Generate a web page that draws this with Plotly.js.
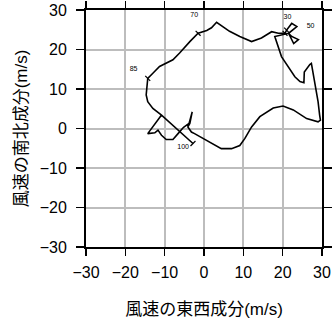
<!DOCTYPE html>
<html><head><meta charset="utf-8">
<script src="https://cdn.plot.ly/plotly-3.0.1.min.js"></script>
<style>html,body{margin:0;padding:0;background:#fff}</style>
</head><body><div id="c" style="width:332px;height:319px"></div>
<script>
// Hodograph: wind u (east-west) and v (north-south) components, m/s, surface first
const uWind = [-2.8,-10.8,-13.0,-14.3,-14.7,-14.5,-14.3,-13.0,-11.3,-7.9,-6.2,-3.6,-1.5,0.7,1.9,3.2,6.5,9.1,12.1,14.6,17.2,18.9,20.6,21.0,22.3,23.6,21.5,22.8,24.0,22.3,21.5,18.0,19.7,23.1,24.4,25.4,25.5,26.9,27.3,27.6,28.2,29.0,29.4,29.6,29.0,26.1,22.7,20.1,17.6,14.2,12.1,10.4,9.1,7.0,4.4,1.5,-2.4,-3.2,-4.1,-3.6,-3.0,-3.8,-5.2,-6.6,-7.9,-9.6,-10.8,-11.7,-12.5,-14.3,-10.8];
const vWind = [-3.8,3.4,5.1,6.8,8.5,11.0,12.7,14.0,15.7,17.4,19.1,22.0,24.1,24.8,25.5,26.9,24.6,23.3,22.0,22.9,24.5,24.1,24.1,24.9,26.6,25.8,24.1,21.5,22.5,23.3,24.1,23.3,18.2,13.1,11.9,11.6,14.3,16.2,16.5,14.8,11.5,6.8,3.4,2.1,1.7,2.5,4.7,5.7,5.2,3.0,0.4,-2.5,-4.3,-5.1,-5.1,-3.4,-1.3,-0.9,0.4,1.3,4.2,1.3,0.3,-1.3,-2.8,-2.8,-1.7,-0.4,-1.1,-1.3,3.4];
// pressure levels (x10 hPa) marked on the curve
const levelLabels = ["100","85","70","50","30"];
const levelU = [-2.8,-14.3,-1.5,21.0,20.6];
const levelV = [-3.8,12.7,24.1,24.9,24.1];
const labelU = [-5.3,-17.9,-2.5,27.1,21.2];
const labelV = [-4.7,15.1,28.6,26.0,28.1];
const tickVals = [-30,-20,-10,0,10,20,30];

const traces = [
  {x:uWind, y:vWind, mode:'lines', line:{color:'#000', width:1.6}, hoverinfo:'skip'},
  {x:levelU, y:levelV, mode:'markers', marker:{symbol:'line-ns', size:5, angle:[45,135,-45,-45,-45], line:{color:'#000', width:1.2}}, hoverinfo:'skip'},
  {x:labelU, y:labelV, mode:'text', text:levelLabels, textfont:{family:'Liberation Sans, Arial, sans-serif', size:7, color:'#000'}, hoverinfo:'skip'}
];
const axisCommon = {
  range:[-30,30], tickvals:tickVals, showgrid:true, gridcolor:'#bdbdbd', gridwidth:2,
  zeroline:false, showline:true, linecolor:'#000', linewidth:2, mirror:'ticks',
  ticks:'outside', ticklen:7, tickwidth:1.2, tickcolor:'#000',
  tickfont:{family:'Liberation Sans, Arial, sans-serif', size:16, color:'#000'}, fixedrange:true
};
const titleFont = {family:'Liberation Sans, Noto Sans CJK JP, sans-serif', size:17, color:'#000'};
const layout = {
  width:332, height:319, showlegend:false,
  margin:{l:86, r:10, t:10, b:72},
  paper_bgcolor:'#fff', plot_bgcolor:'#fff',
  xaxis: Object.assign({}, axisCommon, {ticklabelstandoff:3, title:{text:'風速の東西成分(m/s)', standoff:25, font:titleFont}}),
  yaxis: Object.assign({}, axisCommon, {ticklen:8, ticklabelstandoff:6, title:{text:'風速の南北成分(m/s)', standoff:8, font:titleFont}})
};
Plotly.newPlot('c', traces, layout, {staticPlot:true, displayModeBar:false});
</script></body></html>
